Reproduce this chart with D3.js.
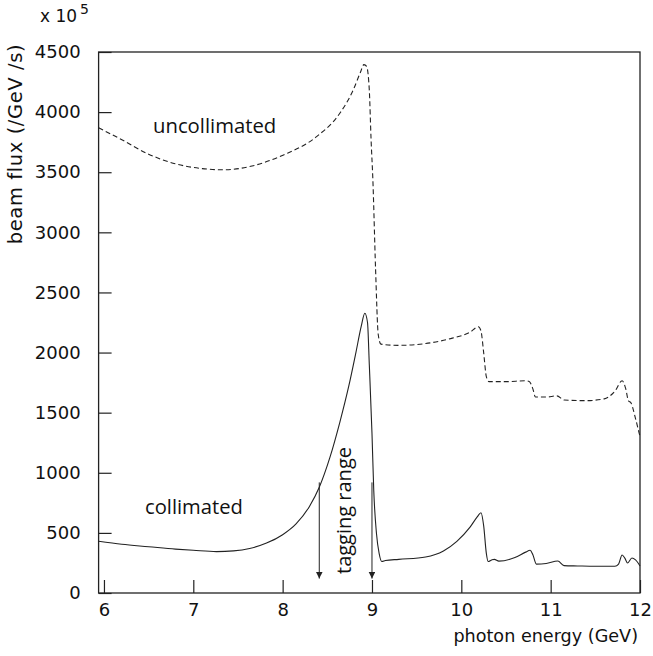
<!DOCTYPE html>
<html>
<head>
<meta charset="UTF-8"/>
<script src="https://d3js.org/d3.v7.min.js"></script>
<style>
body { margin: 0; background: #fff; }
text { fill: #111; }
</style>
</head>
<body>
<div id="chart"></div>
<script>
// DATA
var uncolE = [5.94, 6.2, 6.5, 6.8, 7.1, 7.35, 7.63, 8.01, 8.38, 8.64, 8.79, 8.87, 8.91, 8.94, 8.97, 8.99, 9.01, 9.04, 9.07, 9.1,
              9.3, 9.6, 9.9, 10.1, 10.19, 10.22, 10.25, 10.28, 10.31, 10.5, 10.72, 10.76, 10.8, 10.83, 10.95, 11.07, 11.15,
              11.4, 11.6, 11.72, 11.8, 11.84, 11.87, 11.9, 11.95, 12.0];
var uncolF = [3870, 3770, 3650, 3570, 3530, 3520, 3547, 3644, 3796, 3990, 4184, 4330, 4395, 4380, 4184, 3769, 3436, 2700, 2150, 2070,
              2060, 2075, 2120, 2170, 2215, 2180, 2000, 1800, 1758, 1758, 1765, 1760, 1700, 1630, 1630, 1640, 1605,
              1600, 1615, 1680, 1765, 1700, 1600, 1580, 1450, 1300];

var colE = [5.94, 6.2, 6.5, 6.8, 7.0, 7.26, 7.45, 7.63, 7.82, 8.0, 8.15, 8.3, 8.41, 8.53, 8.64, 8.74, 8.82, 8.88, 8.92, 8.95, 8.97, 9.0,
            9.02, 9.05, 9.08, 9.11, 9.15, 9.3, 9.6, 9.8, 9.95, 10.1, 10.18, 10.22, 10.25, 10.28, 10.3, 10.34, 10.37, 10.42,
            10.6, 10.72, 10.77, 10.8, 10.84, 10.95, 11.08, 11.15, 11.3, 11.5, 11.72, 11.76, 11.8, 11.83, 11.86, 11.91, 11.95, 12.0];
var colF = [430, 405, 385, 365, 355, 344, 350, 370, 415, 485, 575, 720, 880, 1130, 1420, 1720, 2000, 2220, 2327, 2250, 1900, 1329,
            850, 497, 330, 262, 270, 280, 300, 350, 430, 550, 635, 668, 560, 330, 262, 275, 280, 265,
            295, 340, 355, 320, 240, 245, 266, 228, 225, 222, 222, 240, 316, 290, 250, 291, 275, 225];

var xMajor = [6, 7, 8, 9, 10, 11, 12];
var xMinor = d3.range(6, 12.001, 0.2);
var yMajor = [0, 500, 1000, 1500, 2000, 2500, 3000, 3500, 4000, 4500];
var yMinor = d3.range(250, 4500, 500);

var arrowE = [8.41, 9.0];
var arrowTop = 920, arrowBottom = 120;

// SETUP
var W = 653, H = 656;
var mLeft = 98.6, mRight = 640, mTop = 52, mBottom = 593;

var svg = d3.select("#chart").append("svg")
    .attr("width", W)
    .attr("height", H);

var x = d3.scaleLinear().domain([5.94, 12]).range([mLeft, mRight]);
var y = d3.scaleLinear().domain([0, 4500]).range([mBottom, mTop]);

var axisFont = "DejaVu Sans, sans-serif";

// axes
var gx = svg.append("g").attr("transform", "translate(0," + mBottom + ")");
gx.call(d3.axisBottom(x).tickValues(xMinor).tickSize(-6).tickFormat(""));
gx.call(d3.axisBottom(x).tickValues(xMajor).tickSize(-13).tickPadding(10).tickFormat(d3.format("d")));
gx.selectAll(".domain").remove();

var gy = svg.append("g").attr("transform", "translate(" + mLeft + ",0)");
gy.call(d3.axisLeft(y).tickValues(yMinor).tickSize(-7).tickFormat(""));
gy.call(d3.axisLeft(y).tickValues(yMajor).tickSize(-13).tickPadding(18).tickFormat(d3.format("d")));
gy.selectAll(".domain").remove();

svg.selectAll(".tick line").attr("stroke", "#222").attr("stroke-width", 1.2);
svg.selectAll(".tick text")
    .attr("font-family", axisFont)
    .attr("font-size", 18)
    .attr("fill", "#111");

svg.append("rect")
    .attr("x", mLeft)
    .attr("y", mTop)
    .attr("width", mRight - mLeft)
    .attr("height", mBottom - mTop)
    .attr("fill", "none")
    .attr("stroke", "#222")
    .attr("stroke-width", 1.3);

// curves
var line = d3.line()
    .x(function(d) { return x(d[0]); })
    .y(function(d) { return y(d[1]); })
    .curve(d3.curveMonotoneX);

svg.append("path")
    .datum(d3.zip(uncolE, uncolF))
    .attr("d", line)
    .attr("fill", "none")
    .attr("stroke", "#222")
    .attr("stroke-width", 1.1)
    .attr("stroke-dasharray", "5,3");

svg.append("path")
    .datum(d3.zip(colE, colF))
    .attr("d", line)
    .attr("fill", "none")
    .attr("stroke", "#222")
    .attr("stroke-width", 1.1);

// arrows
svg.append("defs").append("marker")
    .attr("id", "head")
    .attr("viewBox", "0 0 10 10")
    .attr("refX", 10)
    .attr("refY", 5)
    .attr("markerWidth", 7)
    .attr("markerHeight", 7)
    .attr("markerUnits", "userSpaceOnUse")
    .attr("orient", "auto")
    .append("path")
    .attr("d", "M0,0 L10,5 L0,10 Z")
    .attr("fill", "#222");

for (var i = 0; i < arrowE.length; i++) {
    svg.append("line")
        .attr("x1", x(arrowE[i]))
        .attr("x2", x(arrowE[i]))
        .attr("y1", y(arrowTop))
        .attr("y2", y(arrowBottom))
        .attr("stroke", "#222")
        .attr("stroke-width", 1)
        .attr("marker-end", "url(#head)");
}

// texts
svg.append("text")
    .attr("x", 638)
    .attr("y", 642)
    .attr("text-anchor", "end")
    .attr("font-family", axisFont)
    .attr("font-size", 17.6)
    .text("photon energy (GeV)");

svg.append("text")
    .attr("transform", "translate(22,144) rotate(-90)")
    .attr("text-anchor", "middle")
    .attr("font-family", axisFont)
    .attr("font-size", 19.5)
    .attr("letter-spacing", 0.6)
    .text("beam flux (/GeV /s)");

var mult = svg.append("text")
    .attr("x", 40)
    .attr("y", 22)
    .attr("font-family", axisFont)
    .attr("font-size", 17);
mult.append("tspan").text("x 10");
mult.append("tspan").attr("dy", -8).attr("dx", 3).attr("font-size", 14).text("5");

svg.append("text")
    .attr("x", 153)
    .attr("y", 133)
    .attr("font-family", "Open Sans, sans-serif")
    .attr("font-size", 20.3)
    .attr("fill", "#333")
    .text("uncollimated");

svg.append("text")
    .attr("x", 145)
    .attr("y", 514)
    .attr("font-family", "Open Sans, sans-serif")
    .attr("font-size", 20.2)
    .attr("fill", "#333")
    .text("collimated");

svg.append("text")
    .attr("transform", "translate(351,574) rotate(-90)")
    .attr("font-family", "Open Sans, sans-serif")
    .attr("font-size", 20)
    .attr("fill", "#333")
    .text("tagging range");
</script>
</body>
</html>
